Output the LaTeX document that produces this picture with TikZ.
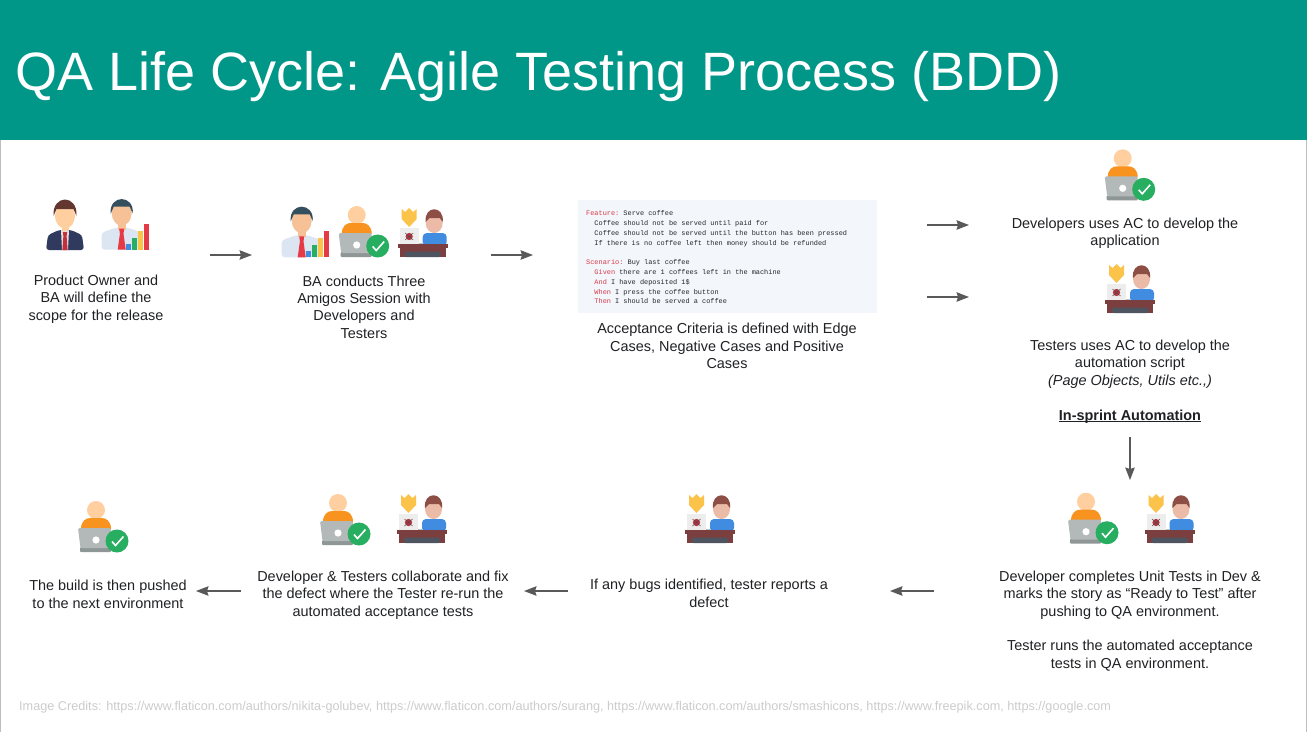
\documentclass[tikz,border=0pt]{standalone}
\usepackage{fontspec}
\setmainfont{Liberation Sans}
\setmonofont{Liberation Mono}
\usetikzlibrary{arrows.meta, positioning}
\definecolor{bandteal}{HTML}{009688}
\definecolor{textdark}{HTML}{202124}
\definecolor{arrowgray}{HTML}{595959}
\definecolor{creditgray}{HTML}{CCCCCC}
\definecolor{edgegray}{HTML}{BDBDBD}
\definecolor{codebg}{HTML}{F3F6FA}
\definecolor{keypink}{HTML}{D73A49}
\definecolor{codeblue}{HTML}{24292E}
\definecolor{skinpale}{HTML}{FFCFA0}
\definecolor{skintan}{HTML}{F6C196}
\definecolor{skinrose}{HTML}{EBBBA8}
\definecolor{devorange}{HTML}{F8931F}
\definecolor{lapgray}{HTML}{B3B8B8}
\definecolor{lapdark}{HTML}{8E9696}
\definecolor{okgreen}{HTML}{27AE60}
\definecolor{deskbrown}{HTML}{7B3F3F}
\definecolor{deskdark}{HTML}{4F5560}
\definecolor{hairbrown}{HTML}{8D4F45}
\definecolor{shieldgold}{HTML}{FBC34A}
\definecolor{shirtblue}{HTML}{3F8CE0}
\definecolor{suitnavy}{HTML}{2F3A5E}
\definecolor{baslate}{HTML}{34505F}
\definecolor{shirtpale}{HTML}{DCE5F2}
\definecolor{tiered}{HTML}{E53946}
\begin{document}
\begin{tikzpicture}[x=1pt, y=-1pt,
    body/.style={font=\fontsize{14.45}{17.4}\selectfont, text=textdark, align=center, inner sep=0pt},
    code/.style={font=\ttfamily\fontsize{6.9}{9.8}\selectfont, text=codeblue, align=left, inner sep=0pt, anchor=north west},
    arr/.style={-{Stealth[length=12.5pt, width=9.5pt, inset=1.5pt]}, color=arrowgray, line width=1.2pt},
    developer/.pic={
        \fill[skinpale] (0,0) circle (9);
        \fill[devorange] (-15,19) .. controls (-15,11) and (-10,8) .. (-6,8) -- (6,8) .. controls (10,8) and (15,11) .. (15,19) -- cycle;
        \fill[lapdark, rounded corners=1pt] (-16,37) rectangle (15,42);
        \fill[lapgray, rounded corners=1.5pt] (-18,18) -- (15,18) -- (15,38) -- (-15.5,38) -- cycle;
        \fill[white] (0,30) circle (3.6);
        \fill[okgreen] (21,31) circle (11.5);
        \draw[white, line width=1.6pt] (16,31.5) -- (19.5,35.5) -- (27.5,26.5);
    },
    tester/.pic={
        \fill[shieldgold] (-21,-37) -- (-17.5,-34) -- (-13.5,-38) -- (-9.5,-34) -- (-6,-37) -- (-6,-27) -- (-13.5,-19) -- (-21,-27) -- cycle;
        \fill[shirtblue, rounded corners=4pt] (0,0) -- (0,-13) -- (24,-13) -- (24,0) -- cycle;
        \fill[skinrose] (11.5,-23) ellipse (8.5 and 10);
        \fill[hairbrown] (3,-24) .. controls (1,-41) and (22,-41) .. (20,-24) -- (17,-28) -- (7,-28) -- cycle;
        \fill[white!93!black] (-23,-18) rectangle (-4,-1);
        \fill[keypink!85!black] (-13.5,-9.5) circle (3.6);
        \draw[black!70, line width=0.5pt] (-17.5,-13) -- (-9.5,-6) (-9.5,-13) -- (-17.5,-6);
        \fill[white!75!black] (-4,-3) rectangle (0,-1);
        \fill[deskbrown] (-23,2) rectangle (23,11);
        \fill[deskbrown] (-25,-2) rectangle (25,2);
        \fill[deskdark, rounded corners=1.5pt] (-18,5.5) rectangle (18,11);
    },
    analyst/.pic={
        \fill[shirtpale, rounded corners=3pt] (-20,39) -- (-20,22) -- (-6,17) -- (6,17) -- (20,22) -- (20,39) -- cycle;
        \fill[skintan] (-4,8) rectangle (4,19);
        \fill[skintan] (0,2) ellipse (10 and 13);
        \fill[baslate] (-11,3) .. controls (-13,-16.5) and (13,-16.5) .. (11,3) -- (8,-4) -- (-8,-4) -- cycle;
        \fill[tiered] (-2.5,18) -- (2.5,18) -- (1.8,23) -- (4,39) -- (-4,39) -- (-1.8,23) -- cycle;
        \fill[shirtblue] (4,33) rectangle (9.5,39);
        \fill[okgreen] (10,27) rectangle (15.5,39);
        \fill[shieldgold] (16,20) rectangle (21.5,39);
        \fill[tiered] (22,13) rectangle (27.5,39);
    },
    owner/.pic={
        \fill[suitnavy, rounded corners=3pt] (-19,35) -- (-17,20) -- (-6,15) -- (6,15) -- (17,20) -- (19,35) -- cycle;
        \fill[white!88!black] (-4,15) -- (4,15) -- (3,35) -- (-3,35) -- cycle;
        \fill[tiered!85!black] (-2.2,17) -- (2.2,17) -- (1.6,21) -- (2.6,35) -- (-2.6,35) -- (-1.6,21) -- cycle;
        \fill[skinpale] (-3.5,8) rectangle (3.5,16);
        \fill[skinpale] (0,1) ellipse (10 and 12.5);
        \fill[hairbrown!70!black] (-11.5,1) .. controls (-13,-21) and (13,-21) .. (11.5,1) -- (8.5,-6) -- (-8.5,-6) -- cycle;
    },
]
    \useasboundingbox (0,0) rectangle (1307,732);
    \fill[white] (0,0) rectangle (1307,732);
    \fill[bandteal] (0,0) rectangle (1307,140);
    \draw[edgegray, line width=1pt] (0.5,140) -- (0.5,732);
    \draw[edgegray, line width=1pt] (1306.5,140) -- (1306.5,732);
    \node[font=\fontsize{54}{58}\selectfont, text=white, anchor=west, inner sep=0pt] (title) at (15,77) {QA Life Cycle: Agile Testing Process (BDD)};

    % top row
    \pic at (65,215) {owner};
    \pic at (121.7,210.7) {analyst};
    \node[body] (scope) at (96,299) {Product Owner and\\BA will define the\\scope for the release};

    \pic at (301.7,218.3) {analyst};
    \pic at (356.7,215) {developer};
    \pic at (422.7,246) {tester};
    \node[body] (amigos) at (364,307) {BA conducts Three\\Amigos Session with\\Developers and\\Testers};

    \fill[codebg] (578,200) rectangle (877,313);
    \node[code] (feature) at (586,210.5) {\textcolor{keypink}{Feature:} Serve coffee\\
        \ \ Coffee should not be served until paid for\\
        \ \ Coffee should not be served until the button has been pressed\\
        \ \ If there is no coffee left then money should be refunded\\
        \strut\\
        \textcolor{keypink}{Scenario:} Buy last coffee\\
        \ \ \textcolor{keypink}{Given} there are 1 coffees left in the machine\\
        \ \ \textcolor{keypink}{And} I have deposited 1\$\\
        \ \ \textcolor{keypink}{When} I press the coffee button\\
        \ \ \textcolor{keypink}{Then} I should be served a coffee};
    \node[body] (criteria) at (727,346) {Acceptance Criteria is defined with Edge\\Cases, Negative Cases and Positive\\Cases};

    \pic at (1122.7,158.3) {developer};
    \node[body] (devuse) at (1125,233) {Developers uses AC to develop the\\application};
    \pic at (1130,302) {tester};
    \node[body] (testuse) at (1130,364) {Testers uses AC to develop the\\automation script\\\textit{(Page Objects, Utils etc.,)}};
    \node[body, anchor=base] (insprint) at (1130,420) {\underline{\smash{\textbf{In-sprint Automation}}}};

    % bottom row
    \pic at (1086,501.7) {developer};
    \pic at (1169.5,532) {tester};
    \node[body] (ready) at (1130,621) {Developer completes Unit Tests in Dev \&\\marks the story as ``Ready to Test'' after\\pushing to QA environment.\\[17.4pt]Tester runs the automated acceptance\\tests in QA environment.};
    \pic at (710,532) {tester};
    \node[body] (bugs) at (709,593.5) {If any bugs identified, tester reports a\\defect};
    \pic at (338,503) {developer};
    \pic at (422,532) {tester};
    \node[body] (fix) at (383,595) {Developer \& Testers collaborate and fix\\the defect where the Tester re-run the\\automated acceptance tests};
    \pic at (96,510) {developer};
    \node[body] (build) at (108,594.5) {The build is then pushed\\to the next environment};

    \node[font=\fontsize{12.68}{15}\selectfont, text=creditgray, anchor=west, inner sep=0pt] (credits) at (19,707) {Image Credits: https://www.flaticon.com/authors/nikita-golubev, https://www.flaticon.com/authors/surang, https://www.flaticon.com/authors/smashicons, https://www.freepik.com, https://google.com};

    % arrows
    \coordinate (a1) at (210,255);
    \coordinate (a2) at (252,255);
    \coordinate (b1) at (491,255);
    \coordinate (b2) at (533,255);
    \coordinate (c1) at (927,225);
    \coordinate (c2) at (969,225);
    \coordinate (d1) at (927,297);
    \coordinate (d2) at (969,297);
    \coordinate (e1) at (1130,437);
    \coordinate (e2) at (1130,480);
    \coordinate (f1) at (934,591);
    \coordinate (f2) at (890,591);
    \coordinate (g1) at (568,591);
    \coordinate (g2) at (524,591);
    \coordinate (h1) at (241,591);
    \coordinate (h2) at (196,591);
    \draw[arr] (a1) -- (a2);
    \draw[arr] (b1) -- (b2);
    \draw[arr] (c1) -- (c2);
    \draw[arr] (d1) -- (d2);
    \draw[arr] (e1) -- (e2);
    \draw[arr] (f1) -- (f2);
    \draw[arr] (g1) -- (g2);
    \draw[arr] (h1) -- (h2);
\end{tikzpicture}
\end{document}
